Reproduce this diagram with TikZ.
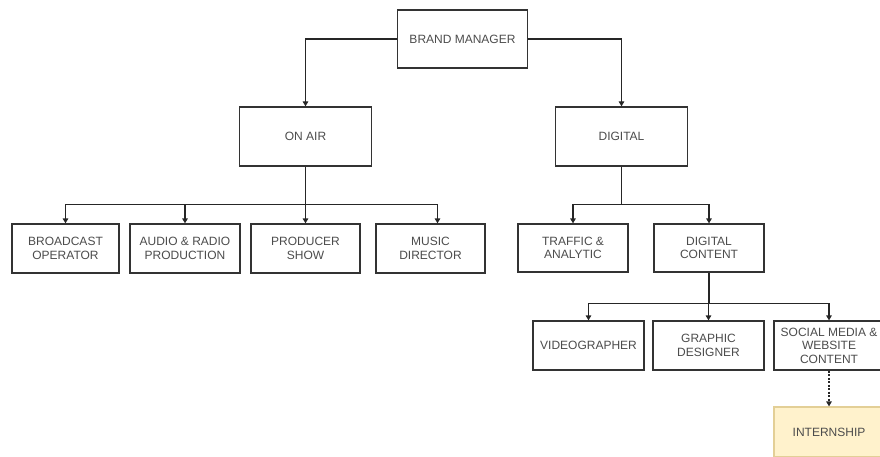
\documentclass[tikz,border=0pt]{standalone}
\usepackage{fontspec}
\setmainfont{Liberation Sans}
\usepackage{xcolor}
\usepackage{tikz}
\usetikzlibrary{arrows.meta,calc,positioning}
\definecolor{internfill}{HTML}{FFF2CC}
\definecolor{interndraw}{HTML}{E3CF96}
\tikzset{
  box/.style={draw=black!80, line width=1.2pt, fill=white, text=black!70, align=center, text centered, inner sep=1pt, font=\fontsize{12}{13.5}\selectfont},
  wide/.style={box, minimum width=132pt, minimum height=59pt},
  unit/.style={box, minimum width=109pt, minimum height=49pt},
  intern/.style={unit, fill=internfill, draw=interndraw},
  arr/.style={draw=black!85, line width=1.2pt, -{Triangle[length=5pt,width=5.5pt]}},
  link/.style={draw=black!85, line width=1.2pt}
}
\begin{document}
\begin{tikzpicture}[x=1pt, y=-1pt]
    \useasboundingbox (0,0) rectangle (880,457);
    % top
    \node[box, minimum width=130pt, minimum height=58pt] (brand) at (462.5,39) {BRAND MANAGER};
    \node[wide] (onair) at (305.5,136.5) {ON AIR};
    \node[wide] (digital) at (621.5,136.5) {DIGITAL};
    % on air
    \node[unit, minimum width=107pt] (bcast) at (65.5,248.5) {BROADCAST\\OPERATOR};
    \node[unit, minimum width=110pt] (audio) at (185,248.5) {AUDIO \& RADIO\\PRODUCTION};
    \node[unit] (producer) at (305.5,248.5) {PRODUCER\\SHOW};
    \node[unit] (music) at (430.5,248.5) {MUSIC\\DIRECTOR};
    % digital
    \node[unit, minimum width=110pt, minimum height=48pt] (traffic) at (573,248) {TRAFFIC \&\\ANALYTIC};
    \node[unit, minimum width=110pt, minimum height=48pt] (dcontent) at (709,248) {DIGITAL\\CONTENT};
    \node[unit, minimum width=111pt] (video) at (588.5,345.5) {VIDEOGRAPHER};
    \node[unit, minimum width=111pt] (graphic) at (708.5,345.5) {GRAPHIC\\DESIGNER};
    \node[unit, minimum width=110pt] (social) at (829,345.5) {SOCIAL MEDIA \&\\WEBSITE\\CONTENT};
    \node[intern, minimum width=110pt, minimum height=50pt] (intern) at (829,432) {INTERNSHIP};

    \draw[arr] (brand.west) -| (onair.north);
    \draw[arr] (brand.east) -| (digital.north);

    \draw[link] (onair.south) -- ++(0,38) coordinate (onbus);
    \foreach \n in {bcast,audio,producer}
        \draw[arr] (onbus) -| (\n.north);
    \draw[arr] (onbus) -| ([xshift=7pt]music.north);

    \draw[link] (digital.south) -- ++(0,38) coordinate (digbus);
    \foreach \n in {traffic,dcontent}
        \draw[arr] (digbus) -| (\n.north);

    \draw[link] (dcontent.south) -- ++(0,31) coordinate (conbus);
    \foreach \n in {video,graphic,social}
        \draw[arr] (conbus) -| (\n.north);

    \draw[arr, dash pattern=on 2pt off 1.5pt] (social) -- (intern);
\end{tikzpicture}
\end{document}
